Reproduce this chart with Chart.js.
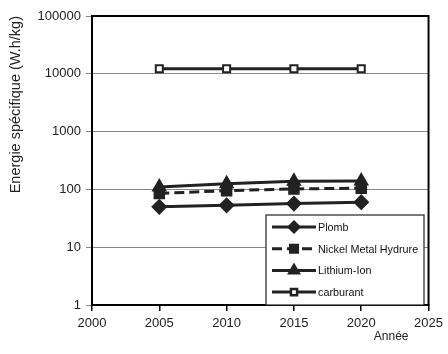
<!DOCTYPE html>
<html>
<head>
<meta charset="utf-8">
<script src="https://cdn.jsdelivr.net/npm/chart.js@4"></script>
<style>
  body { margin: 0; background: #fff; }
  #wrap { width: 448px; height: 354px; }
</style>
</head>
<body>
<div id="wrap"><canvas id="c" width="448" height="354"></canvas></div>
<script>
const years = [2005, 2010, 2015, 2020];
const seriesNames = ["Plomb", "Nickel Metal Hydrure", "Lithium-Ion", "carburant"];
const plomb = [50, 53, 57, 60];
const nimh = [85, 95, 102, 105];
const liIon = [110, 125, 138, 140];
const carburant = [12200, 12200, 12200, 12200];
const yTicks = [1, 10, 100, 1000, 10000, 100000];
const xTicks = [2000, 2005, 2010, 2015, 2020, 2025];

const ink = "#222";
const font = "'Liberation Sans', Arial, sans-serif";
const toPoints = vals => years.map((y, i) => ({ x: y, y: vals[i] }));

const datasets = [
  { label: seriesNames[0], data: toPoints(plomb), pointStyle: "rectRot", pointRadius: 6, pointBackgroundColor: ink },
  { label: seriesNames[1], data: toPoints(nimh), pointStyle: "rect", pointRadius: 6, pointBackgroundColor: ink, borderDash: [10, 5] },
  { label: seriesNames[2], data: toPoints(liIon), pointStyle: "triangle", pointRadius: 6, pointBackgroundColor: ink },
  { label: seriesNames[3], data: toPoints(carburant), pointStyle: "rect", pointRadius: 5, pointBackgroundColor: "#fff", pointBorderWidth: 2 }
].map(d => Object.assign({ borderColor: ink, pointBorderColor: ink, borderWidth: 3, fill: false, tension: 0 }, d));

// legend box drawn inside the plot, bottom right
const boxLegend = {
  id: "boxLegend",
  afterDraw(chart) {
    const ctx = chart.ctx;
    const x = 266, y = 215, w = 158, h = 90;
    ctx.save();
    ctx.fillStyle = "#fff";
    ctx.fillRect(x, y, w, h);
    ctx.strokeStyle = ink;
    ctx.lineWidth = 1.2;
    ctx.strokeRect(x, y, w, h);
    ctx.font = "10.8px " + font;
    ctx.textBaseline = "middle";
    chart.data.datasets.forEach((ds, i) => {
      const ry = 227 + i * 21.7;
      ctx.strokeStyle = ink;
      ctx.lineWidth = 3;
      ctx.setLineDash(ds.borderDash || []);
      ctx.beginPath();
      ctx.moveTo(272, ry);
      ctx.lineTo(316, ry);
      ctx.stroke();
      ctx.setLineDash([]);
      Chart.helpers.drawPoint(ctx, {
        pointStyle: ds.pointStyle, radius: ds.pointRadius - 1, borderWidth: ds.pointBorderWidth || 1
      }, 294, ry);
      ctx.fillStyle = ds.pointBackgroundColor;
      ctx.strokeStyle = ink;
      ctx.lineWidth = ds.pointBorderWidth || 1;
      ctx.fill();
      ctx.stroke();
      ctx.fillStyle = "#111";
      ctx.fillText(ds.label, 318, ry + 1);
    });
    ctx.restore();
  }
};

// frame around the plot area
const frame = {
  id: "frame",
  beforeDatasetsDraw(chart) {
    const a = chart.chartArea, ctx = chart.ctx;
    ctx.save();
    ctx.strokeStyle = "#000";
    ctx.lineWidth = 2;
    ctx.strokeRect(a.left, a.top, a.right - a.left, a.bottom - a.top);
    ctx.restore();
  }
};

new Chart(document.getElementById("c"), {
  type: "line",
  data: { datasets },
  options: {
    responsive: false,
    animation: false,
    layout: { padding: { left: 0, right: 18, top: 16, bottom: 0 } },
    plugins: { legend: { display: false }, tooltip: { enabled: false } },
    scales: {
      x: {
        type: "linear",
        min: 2000, max: 2025,
        afterBuildTicks: s => { s.ticks = xTicks.map(v => ({ value: v })); },
        afterFit: s => { s.height = 49; },
        grid: { drawOnChartArea: false, drawTicks: true, tickLength: 6, color: "#000", lineWidth: 1.5 },
        border: { color: "#000", width: 2 },
        ticks: { color: "#222", font: { family: font, size: 13 }, padding: 5, callback: v => String(v), maxRotation: 0 },
        title: { display: true, text: "Année      ", align: "end", color: "#222", font: { family: font, size: 12 }, padding: { top: 0, bottom: 10 } }
      },
      y: {
        type: "logarithmic",
        min: 1, max: 100000,
        afterBuildTicks: s => { s.ticks = yTicks.map(v => ({ value: v })); },
        afterFit: s => { s.width = 92; },
        grid: { color: "#888", lineWidth: 1, tickLength: 6, drawTicks: true },
        border: { color: "#000", width: 2 },
        ticks: { color: "#222", font: { family: font, size: 13 }, padding: 5, callback: v => String(v) },
        title: { display: true, text: "Energie spécifique (W.h/kg)", align: "end", color: "#222", font: { family: font, size: 14.5 }, padding: { top: 7, bottom: 0 } }
      }
    }
  },
  plugins: [frame, boxLegend]
});
</script>
</body>
</html>
